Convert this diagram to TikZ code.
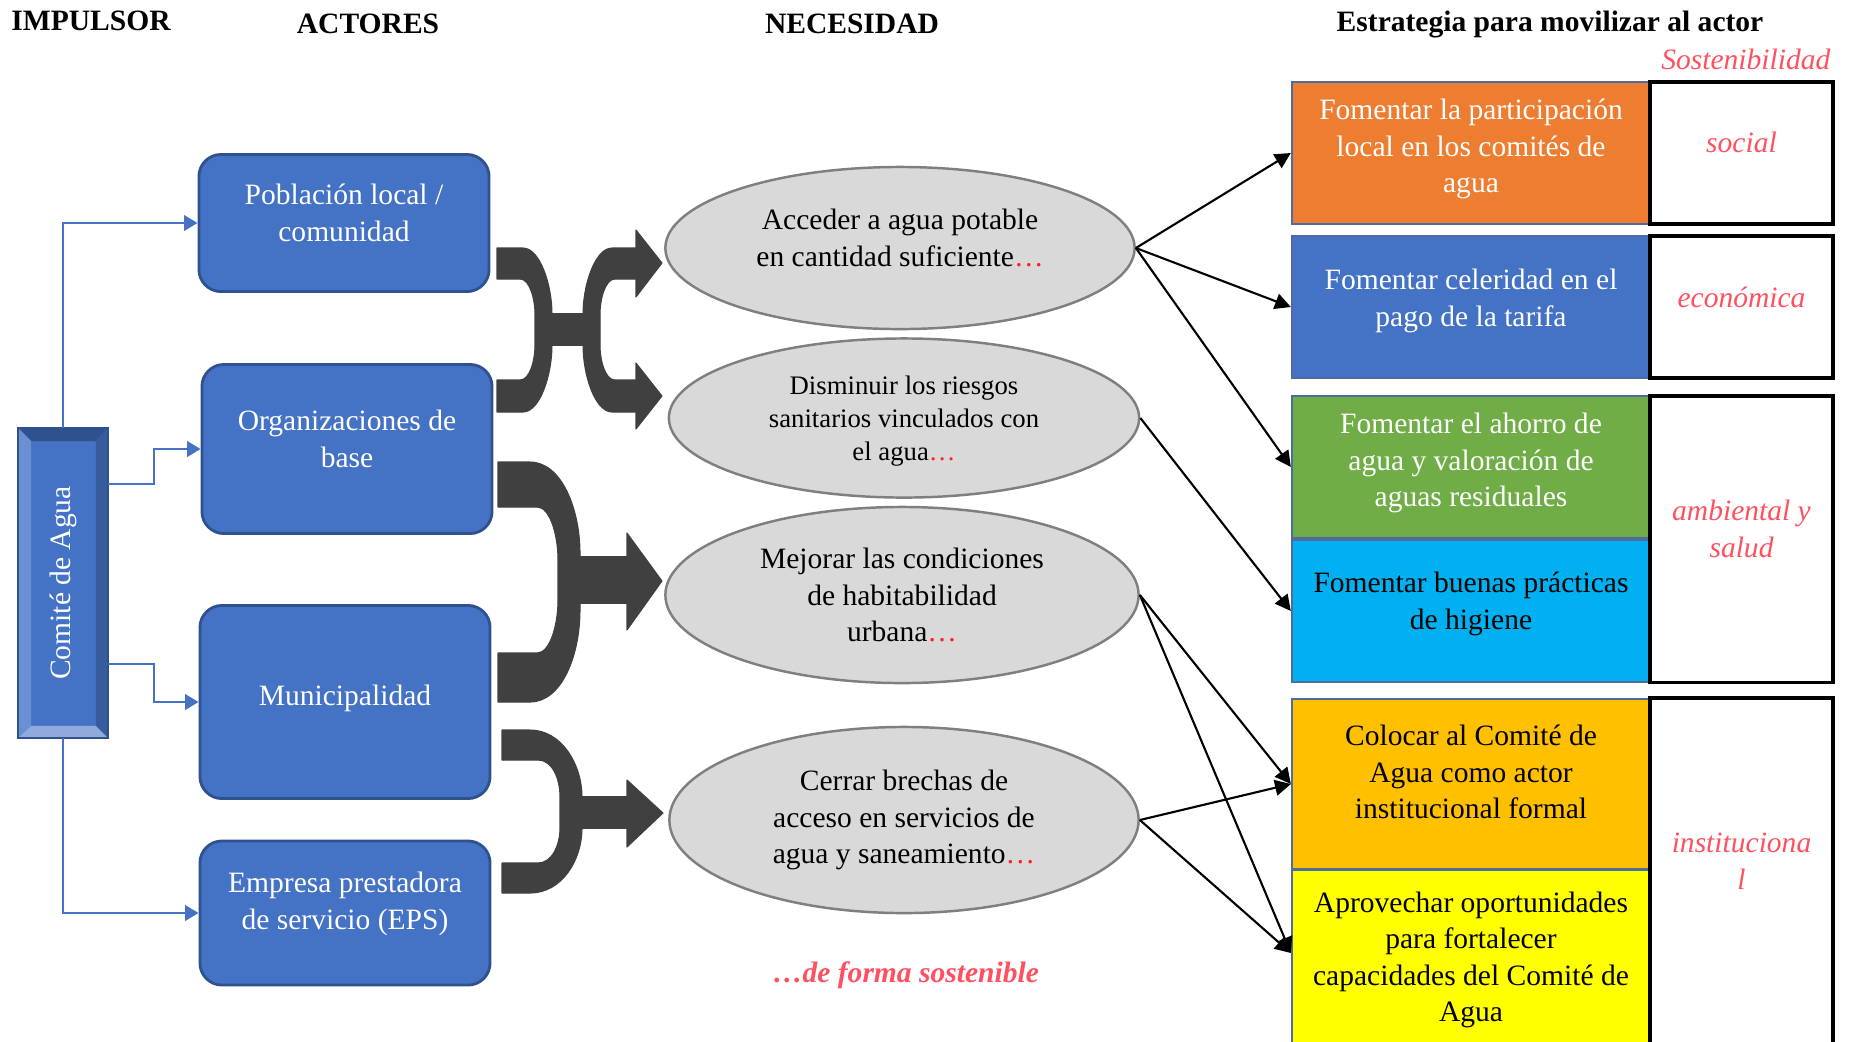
\documentclass[tikz,border=0pt]{standalone}
\usepackage{fontspec}
\setmainfont{Liberation Serif}
\usepackage{xcolor}
\usepackage{graphicx}
\usepackage{tikz}
\usetikzlibrary{shapes.geometric,arrows.meta}

\definecolor{azul}{HTML}{4472C4}
\definecolor{azulosc}{HTML}{2F528F}
\definecolor{azulclaro}{HTML}{8FAADC}
\definecolor{azulmedio}{HTML}{6A8FD2}
\definecolor{azulsombra}{HTML}{365C9E}
\definecolor{gris}{HTML}{D9D9D9}
\definecolor{grisborde}{HTML}{7F7F7F}
\definecolor{flecha}{HTML}{404040}
\definecolor{naranja}{HTML}{ED7D31}
\definecolor{verde}{HTML}{70AD47}
\definecolor{celeste}{HTML}{00B0F0}
\definecolor{oro}{HTML}{FFC000}
\definecolor{amarillo}{HTML}{FFFF00}
\definecolor{rojo}{HTML}{FF5060}
\definecolor{puntos}{HTML}{FF2020}

\begin{document}
\begin{tikzpicture}[x=0.01cm,y=-0.01cm,
    titulo/.style={font=\fontsize{8.4}{10}\selectfont\bfseries},
    comite/.style={draw=azulosc, line width=0.5pt, fill=azul, text=white, inner sep=0pt,
        minimum width=0.88cm, minimum height=3.08cm, font=\fontsize{8.4}{10.4}\selectfont},
    actor/.style={draw=azulosc, line width=0.8pt, fill=azul, rounded corners=0.22cm,
        minimum width=2.9cm, text=white, align=center, font=\fontsize{8.4}{10.4}\selectfont},
    necesidad/.style={ellipse, draw=grisborde, line width=0.7pt, fill=gris, inner sep=0pt,
        align=center, font=\fontsize{8.4}{10.4}\selectfont},
    estrat/.style={draw=azulosc!85, line width=0.6pt, minimum width=3.58cm,
        minimum height=1.42cm, inner sep=0pt, align=center, font=\fontsize{8.4}{10.4}\selectfont},
    sost/.style={draw=black, line width=0.9pt, fill=white, minimum width=1.83cm, inner sep=0pt,
        align=center, text=rojo, font=\fontsize{8.4}{10.4}\selectfont\itshape},
    conector/.style={azul, line width=0.6pt, -{Triangle[length=3.8pt,width=4.4pt]}},
    enlace/.style={black, line width=0.6pt, -{Triangle[length=4.5pt,width=4.5pt]}},
    llave/.style={fill=flecha, draw=flecha, line width=0.3pt, line join=round}]

    \useasboundingbox (0,0) rectangle (1854,1041);
    \clip (0,0) rectangle (1854,1041);

    % encabezados
    \node[titulo] (h1) at (91,21) {IMPULSOR};
    \node[titulo] (h2) at (368,24) {ACTORES};
    \node[titulo] (h3) at (852,24) {NECESIDAD};
    \node[titulo] (h4) at (1550,24) {Estrategia para movilizar al actor};
    \node[anchor=east, inner sep=0pt, text=rojo, font=\fontsize{8.4}{10}\selectfont\itshape] (sost0) at (1831,59) {Sostenibilidad};

    % impulsor
    \node[comite] (cda) at (63,583) {\rotatebox{90}{Comité de Agua}};
    \fill[azulosc] (cda.north west) -- (cda.north east) -- ([shift={(-12,13)}]cda.north east) -- ([shift={(13,13)}]cda.north west) -- cycle;
    \fill[azulmedio] (cda.north west) -- ([shift={(13,13)}]cda.north west) -- ([shift={(13,-12)}]cda.south west) -- (cda.south west) -- cycle;
    \fill[azulsombra] (cda.north east) -- ([shift={(-12,13)}]cda.north east) -- ([shift={(-12,-12)}]cda.south east) -- (cda.south east) -- cycle;
    \fill[azulclaro] (cda.south west) -- ([shift={(13,-12)}]cda.south west) -- ([shift={(-12,-12)}]cda.south east) -- (cda.south east) -- cycle;
    \draw[azulosc, line width=0.5pt] (cda.north west) rectangle (cda.south east);

    % actores
    \node[actor, minimum height=1.37cm, text depth=6pt] (pob) at (344,223) {Población local /\\comunidad};
    \node[actor, minimum height=1.69cm, text depth=6pt] (org) at (347,449) {Organizaciones de\\base};
    \node[actor, minimum height=1.93cm, text depth=4pt] (mun) at (345,702) {Municipalidad};
    \node[actor, minimum height=1.44cm, text depth=7pt] (eps) at (345,913) {Empresa prestadora\\de servicio (EPS)};

    \draw[conector] (cda.north) |- (pob.west);
    \draw[conector] ([yshift=0.99cm]cda.east) -| (154,449) -- (org.west);
    \draw[conector] ([yshift=-0.81cm]cda.east) -| (154,702) -- (mun.west);
    \draw[conector] (cda.south) |- (eps.west);

    % flechas curvas
    \path[llave] (497,248) -- (523,248) .. controls (540,248) and (552,285) .. (552,314) -- (552,345)
        .. controls (552,375) and (540,412) .. (523,412) -- (497,412) -- (497,380) -- (520,380)
        .. controls (530,380) and (535,360) .. (535,345) -- (535,314)
        .. controls (535,300) and (530,279) .. (520,279) -- (497,279) -- cycle;
    \path[llave] (550,314) rectangle (585,345);
    \path[llave] (638,248) -- (612,248) .. controls (595,248) and (583,285) .. (583,314) -- (583,345)
        .. controls (583,375) and (595,412) .. (612,412) -- (638,412) -- (638,380) -- (615,380)
        .. controls (605,380) and (600,360) .. (600,345) -- (600,314)
        .. controls (600,300) and (605,279) .. (615,279) -- (638,279) -- cycle;
    \path[llave] (636,230) -- (662,263) -- (636,297) -- cycle;
    \path[llave] (636,363) -- (662,396) -- (636,429) -- cycle;

    \path[llave] (498,462) -- (530,462) .. controls (562,462) and (580,510) .. (580,553) -- (580,610)
        .. controls (580,655) and (562,702) .. (530,702) -- (498,702) -- (498,653) -- (537,653)
        .. controls (550,653) and (558,625) .. (558,600) -- (558,560)
        .. controls (558,535) and (550,507) .. (537,507) -- (498,507) -- cycle;
    \path[llave] (578,557) rectangle (629,603);
    \path[llave] (627,533) -- (662,581) -- (627,630) -- cycle;

    \path[llave] (502,730) -- (530,730) .. controls (562,730) and (582,765) .. (582,797) -- (582,828)
        .. controls (582,860) and (562,893) .. (530,893) -- (502,893) -- (502,863) -- (538,863)
        .. controls (552,863) and (560,845) .. (560,828) -- (560,797)
        .. controls (560,778) and (552,760) .. (538,760) -- (502,760) -- cycle;
    \path[llave] (580,797) rectangle (629,828);
    \path[llave] (627,780) -- (663,813) -- (627,847) -- cycle;

    % necesidades
    \node[necesidad, minimum width=4.69cm, minimum height=1.62cm, text depth=6pt] (e1) at (900,248)
        {Acceder a agua potable\\en cantidad suficiente\textcolor{puntos}{…}};
    \node[necesidad, minimum width=4.70cm, minimum height=1.59cm, text depth=0pt,
        font=\fontsize{7.6}{9.4}\selectfont] (e2) at (904,418)
        {Disminuir los riesgos\\sanitarios vinculados con\\el agua\textcolor{puntos}{…}};
    \node[necesidad, minimum width=4.73cm, minimum height=1.76cm] (e3) at (902,595)
        {Mejorar las condiciones\\de habitabilidad\\urbana\textcolor{puntos}{…}};
    \node[necesidad, minimum width=4.69cm, minimum height=1.86cm] (e4) at (904,820)
        {Cerrar brechas de\\acceso en servicios de\\agua y saneamiento\textcolor{puntos}{…}};
    \node[text=rojo, font=\fontsize{8.4}{10}\selectfont\bfseries\itshape] (forma) at (906,975) {…de forma sostenible};

    % estrategias
    \node[estrat, fill=naranja, text=white, text depth=4pt] (est1) at (1471,153) {Fomentar la participación\\local en los comités de\\agua};
    \node[estrat, fill=azul, text=white, text depth=5.4pt] (est2) at (1471,307) {Fomentar celeridad en el\\pago de la tarifa};
    \node[estrat, fill=verde, text=white, text depth=4pt] (est3) at (1471,467) {Fomentar el ahorro de\\agua y valoración de\\aguas residuales};
    \node[estrat, fill=celeste, text depth=6pt] (est4) at (1471,611) {Fomentar buenas prácticas\\de higiene};
    \node[estrat, fill=oro, minimum height=1.70cm, text depth=6.8pt] (est5) at (1471,784) {Colocar al Comité de\\Agua como actor\\institucional formal};
    \node[estrat, fill=amarillo, minimum height=1.80cm] (est6) at (1471,960) {Aprovechar oportunidades\\para fortalecer\\capacidades del Comité de\\Agua};

    \node[sost, minimum height=1.42cm, text depth=6pt] (sos1) at (1741.5,153) {social};
    \node[sost, minimum height=1.42cm, text depth=5.4pt] (sos2) at (1741.5,307) {económica};
    \node[sost, minimum height=2.86cm, text depth=5.8pt] (sos3) at (1741.5,539) {ambiental y\\salud};
    \node[sost, minimum height=3.52cm, text depth=7.4pt] (sos4) at (1741.5,874) {instituciona\\l};

    \draw[enlace] (e1.east) -- (est1.west);
    \draw[enlace] (e1.east) -- (est2.west);
    \draw[enlace] (e1.east) -- (est3.west);
    \draw[enlace] (e2.east) -- (est4.west);
    \draw[enlace] (e3.east) -- (est5.west);
    \draw[enlace] (e3.east) -- ([yshift=0.07cm]est6.west);
    \draw[enlace] (e4.east) -- (est5.west);
    \draw[enlace] (e4.east) -- ([yshift=0.07cm]est6.west);
\end{tikzpicture}
\end{document}
